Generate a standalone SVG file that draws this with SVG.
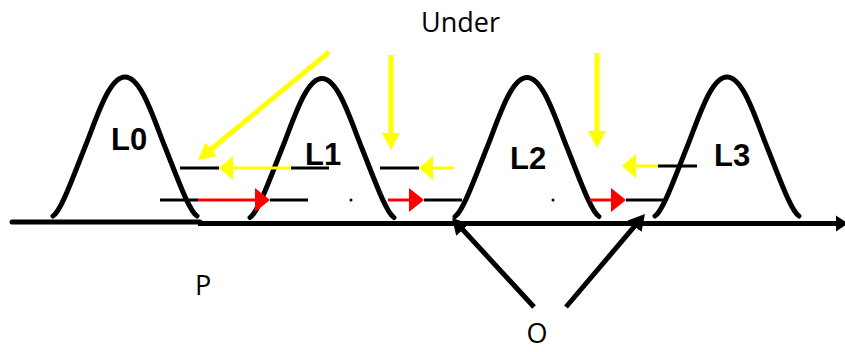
<svg xmlns="http://www.w3.org/2000/svg" width="845" height="352" viewBox="0 0 845 352">
<style>
.hump{fill:none;stroke:#000;stroke-width:5;stroke-linecap:round;stroke-linejoin:round}
.lbl{font-family:"Liberation Sans",Arial,sans-serif;font-weight:bold;font-size:31px;fill:#000}
.txt{font-family:"Open Sans","Liberation Sans",sans-serif;font-size:27px;fill:#000}
.blk{stroke:#000;stroke-width:3;fill:none}
.yh{stroke:#ffff00;stroke-width:3;fill:none;marker-end:url(#mYH)}
.rh{stroke:#ff0000;stroke-width:3;fill:none;marker-end:url(#mRH)}
.yl{stroke:#ffff00;stroke-width:5;fill:none;marker-end:url(#mYL)}
.bo{stroke:#000;stroke-width:5;fill:none;marker-end:url(#mBO)}
.axis{stroke:#000;stroke-width:5;fill:none;stroke-linecap:round}
</style>
<defs>
<path id="bell" d="M-72,139 C-64,134 -52,100 -40,70 C-28,40 -16,0 0,0 C16,0 28,40 40,70 C52,100 64,134 72,139"/>
<marker id="mYH" viewBox="0 -12 16 24" refX="2" refY="0" markerWidth="16" markerHeight="24" orient="auto" markerUnits="userSpaceOnUse"><path d="M0,-12 L14,0 L0,12 z" fill="#ffff00"/></marker>
<marker id="mRH" viewBox="0 -12 16 24" refX="2" refY="0" markerWidth="16" markerHeight="24" orient="auto" markerUnits="userSpaceOnUse"><path d="M0,-12 L15,0 L0,12 z" fill="#ff0000"/></marker>
<marker id="mYL" viewBox="0 -10 18 20" refX="2" refY="0" markerWidth="18" markerHeight="20" orient="auto" markerUnits="userSpaceOnUse"><path d="M0,-9 L17,0 L0,9 z" fill="#ffff00"/></marker>
<marker id="mBO" viewBox="0 -10 18 20" refX="2" refY="0" markerWidth="18" markerHeight="20" orient="auto" markerUnits="userSpaceOnUse"><path d="M0,-9 L16,0 L0,9 z" fill="#000"/></marker>
<marker id="mAX" viewBox="0 -9 14 18" refX="2" refY="0" markerWidth="14" markerHeight="18" orient="auto" markerUnits="userSpaceOnUse"><path d="M0,-8 L12,0 L0,8 z" fill="#000"/></marker>
</defs>

<g id="axis">
<line class="axis" x1="12" y1="222" x2="200" y2="222"/>
<line x1="198" y1="223.5" x2="838" y2="223.5" stroke="#000" stroke-width="5" marker-end="url(#mAX)"/>
</g>

<g id="L0"><use href="#bell" class="hump" transform="translate(125,77)"/><text class="lbl" x="111" y="150">L0</text></g>
<g id="L1"><use href="#bell" class="hump" transform="translate(322,78.5)"/><text class="lbl" x="305" y="165">L1</text></g>
<g id="L2"><use href="#bell" class="hump" transform="translate(527,77.5)"/><text class="lbl" x="510" y="169">L2</text></g>
<g id="L3"><use href="#bell" class="hump" transform="translate(727,77)"/><text class="lbl" x="714" y="166">L3</text></g>

<g id="connectors">
<line class="blk" x1="180" y1="168" x2="219" y2="168"/>
<line class="blk" x1="291" y1="168" x2="329" y2="168"/>
<line class="blk" x1="380" y1="168" x2="419" y2="168"/>
<line class="blk" x1="658" y1="166" x2="697" y2="166"/>
<line class="blk" x1="160" y1="200" x2="198" y2="200"/>
<line class="blk" x1="270" y1="200" x2="308" y2="200"/>
<line class="blk" x1="424" y1="200" x2="462" y2="200"/>
<line class="blk" x1="626" y1="200" x2="663" y2="200"/>
<circle cx="351" cy="200" r="1.5" fill="#000"/>
<circle cx="553" cy="200" r="1.5" fill="#000"/>
<line class="yh" x1="291" y1="168" x2="231" y2="168"/>
<line class="yh" x1="454" y1="168" x2="431" y2="168"/>
<line class="yh" x1="658" y1="166" x2="634" y2="166"/>
<line class="rh" x1="198" y1="200" x2="257" y2="200"/>
<line class="rh" x1="388" y1="200" x2="411" y2="200"/>
<line class="rh" x1="590" y1="200" x2="613" y2="200"/>
<line class="yl" x1="329" y1="52" x2="209.6" y2="150.5"/>
<line class="yl" x1="391" y1="55" x2="391" y2="135"/>
<line class="yl" x1="597" y1="53" x2="597" y2="133"/>
<line class="bo" x1="534" y1="307" x2="461.5" y2="228.3"/>
<line class="bo" x1="566" y1="307" x2="635.9" y2="224.7"/>
</g>

<g id="labels">
<text class="txt" x="421" y="32">Under</text>
<text class="txt" x="195" y="295">P</text>
<text class="txt" x="537" y="343" text-anchor="middle">O</text>
</g>
</svg>
